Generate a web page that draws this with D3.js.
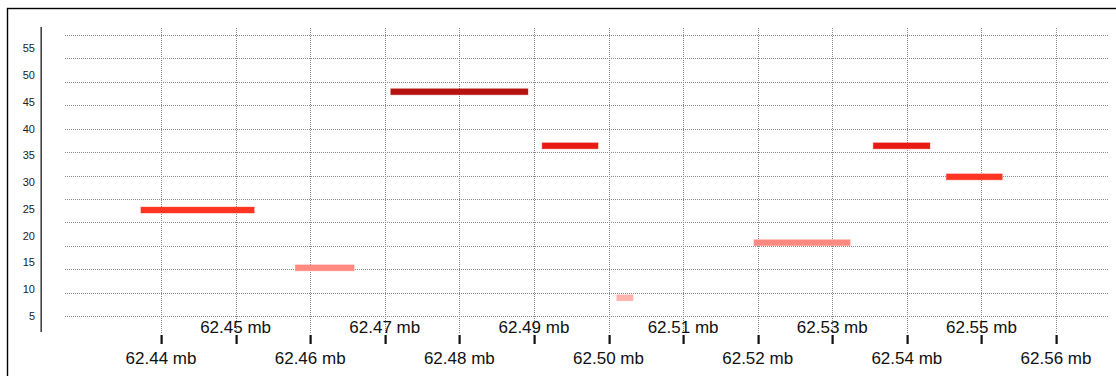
<!DOCTYPE html>
<html>
<head>
<meta charset="utf-8">
<script src="https://cdn.jsdelivr.net/npm/d3@7"></script>
<style>
  html, body { margin: 0; padding: 0; background: #fff; }
  svg { display: block; }
</style>
</head>
<body>
<svg id="chart" width="1116" height="376"></svg>
<script>
// ---- data ----
const xTicks = [62.44, 62.45, 62.46, 62.47, 62.48, 62.49, 62.50, 62.51, 62.52, 62.53, 62.54, 62.55, 62.56];
const yTicks = [5, 10, 15, 20, 25, 30, 35, 40, 45, 50, 55];
const segStart = [62.4373, 62.4580, 62.4708, 62.4911, 62.5011, 62.5195, 62.5355, 62.5453];
const segEnd   = [62.4525, 62.4659, 62.4892, 62.4986, 62.5033, 62.5324, 62.5431, 62.5528];
const segValue = [24.8, 14.0, 46.9, 36.8, 8.4, 18.7, 36.8, 31.0];
const gridRows = 13;

// ---- layout ----
const svg = d3.select("#chart");
const x = d3.scaleLinear().domain([62.44, 62.56]).range([161, 1056]);
const y = d3.scaleLinear().domain([5, 55]).range([316, 48.4]);
const gridY = d3.scaleLinear().domain([0, gridRows - 1]).range([35, 316]);
const color = d3.scaleThreshold()
  .domain([10, 20, 33, 42])
  .range(["#ffb3ad", "#ff8a82", "#ff3524", "#e81a14", "#b51210"]);

// frame
svg.append("rect")
  .attr("x", 7.5).attr("y", 8.5).attr("width", 1200).attr("height", 500)
  .attr("fill", "none").attr("stroke", "#000").attr("stroke-width", 1.4);

// horizontal grid
svg.append("g").selectAll("line")
  .data(d3.range(gridRows))
  .join("line")
  .attr("x1", 65).attr("x2", 1108)
  .attr("y1", d => Math.round(gridY(d)) + 0.5)
  .attr("y2", d => Math.round(gridY(d)) + 0.5)
  .attr("stroke", "#8a8a8a").attr("stroke-width", 1)
  .attr("stroke-dasharray", "1,1");

// vertical grid
svg.append("g").selectAll("line")
  .data(xTicks)
  .join("line")
  .attr("x1", d => Math.round(x(d)) + 0.5)
  .attr("x2", d => Math.round(x(d)) + 0.5)
  .attr("y1", 28).attr("y2", 334)
  .attr("stroke", "#8a8a8a").attr("stroke-width", 1)
  .attr("stroke-dasharray", "1,1");

// y axis line
svg.append("line")
  .attr("x1", 41.2).attr("x2", 41.2).attr("y1", 27).attr("y2", 332)
  .attr("stroke", "#444").attr("stroke-width", 1.6);

// y labels
svg.append("g").selectAll("text")
  .data(yTicks)
  .join("text")
  .attr("x", 35).attr("y", d => y(d))
  .attr("dy", "0.35em")
  .attr("text-anchor", "end")
  .attr("font-family", "Liberation Sans, Arial, sans-serif")
  .attr("font-size", 11)
  .attr("fill", "#222")
  .text(d => d);

// segments
const segs = segStart.map((s, i) => ({ s, e: segEnd[i], v: segValue[i] }));
svg.append("g").selectAll("rect")
  .data(segs)
  .join("rect")
  .attr("x", d => x(d.s))
  .attr("width", d => x(d.e) - x(d.s))
  .attr("y", d => y(d.v) - 3)
  .attr("height", 6)
  .attr("fill", d => color(d.v))
  .attr("stroke", d => color(d.v))
  .attr("stroke-opacity", 0.35)
  .attr("stroke-width", 1);

// x ticks
svg.append("g").selectAll("rect")
  .data(xTicks)
  .join("rect")
  .attr("x", d => Math.round(x(d)) - 0.5)
  .attr("y", 335)
  .attr("width", 2.2).attr("height", 9)
  .attr("fill", "#111");

// x labels (alternating rows)
svg.append("g").selectAll("text")
  .data(xTicks)
  .join("text")
  .attr("x", d => x(d))
  .attr("y", (d, i) => i % 2 === 0 ? 364 : 333)
  .attr("text-anchor", "middle")
  .attr("font-family", "Liberation Sans, Arial, sans-serif")
  .attr("font-size", 17)
  .attr("fill", "#111")
  .text(d => d.toFixed(2) + " mb");
</script>
</body>
</html>
